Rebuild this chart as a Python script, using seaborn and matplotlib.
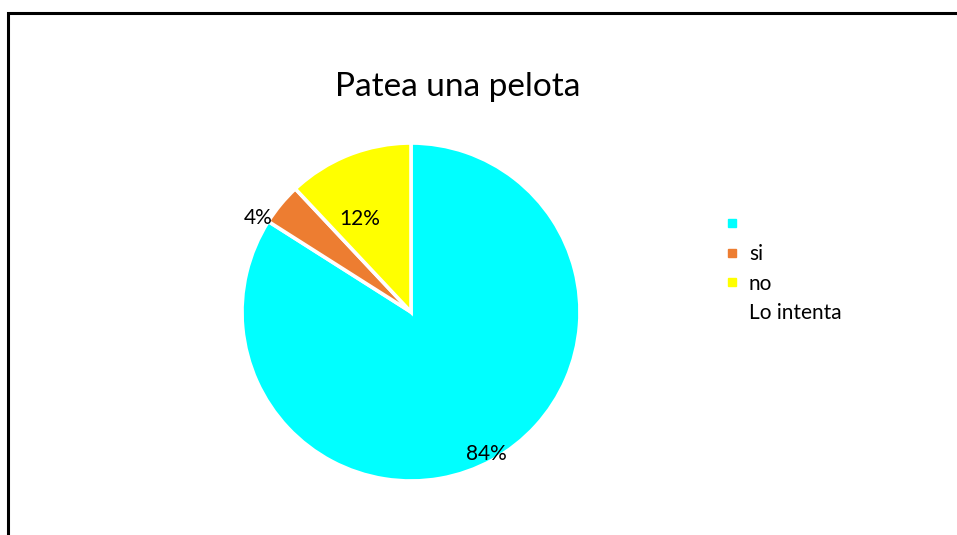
import matplotlib
matplotlib.use("Agg")
import matplotlib.pyplot as plt
from matplotlib.lines import Line2D
import numpy as np
import seaborn as sns

# Chart data
values = [84, 4, 12]
slice_colors = ["#00FFFF", "#ED7D31", "#FFFF00"]
legend_labels = ["", "si", "no", "Lo intenta"]
title = "Patea una pelota"

# label layout: distance from centre (fraction of radius) and
# angular nudge (degrees) away from each wedge's mid-angle
label_radius = [0.95, 1.06, 0.63]
label_nudge = [-1.0, 8.0, 7.0]

sns.set_theme(style="white")
plt.rcParams["font.family"] = ["Lato", "DejaVu Sans"]
plt.rcParams["text.color"] = "black"

W, H = 957, 535
fig = plt.figure(figsize=(W / 100, H / 100), dpi=100)
fig.patch.set_facecolor("white")

# pie axes: centre (411, 312) px, radius 169 px
cx, cy, r = 411, 312, 169
ax = fig.add_axes([(cx - r) / W, (H - cy - r) / H, 2 * r / W, 2 * r / H])
wedges, _ = ax.pie(
    values,
    colors=slice_colors,
    startangle=90,
    counterclock=False,
    radius=1.0,
    wedgeprops=dict(edgecolor="white", linewidth=2.6),
)
ax.set_xlim(-1, 1)
ax.set_ylim(-1, 1)
ax.set_aspect("equal")
ax.axis("off")

total = sum(values)
for w, v, rf, nd in zip(wedges, values, label_radius, label_nudge):
    mid = np.deg2rad((w.theta1 + w.theta2) / 2 + nd)
    ax.text(rf * np.cos(mid), rf * np.sin(mid), f"{round(100 * v / total)}%",
            ha="center", va="center", fontsize=15, color="black")

fig.text(458 / W, 1 - 87 / H, title, ha="center", va="center",
         fontsize=24, color="black")

# legend: coloured squares with the labels one row lower
handles = [Line2D([], [], linestyle="none", marker="s", markersize=5.5,
                  markerfacecolor=c, markeredgecolor=c) for c in slice_colors]
handles.append(Line2D([], [], linestyle="none", marker="none"))
leg = fig.legend(handles, legend_labels, loc="upper left",
                 bbox_to_anchor=(724 / W, 1 - 214 / H), frameon=False,
                 fontsize=15, handlelength=0.8, handletextpad=0.4,
                 labelspacing=0.47, borderpad=0, borderaxespad=0)
for t in leg.get_texts():
    t.set_color("black")

# left and top frame lines
fig.add_artist(Line2D([8 / W, 8 / W, 1.0], [0.0, 1 - 13 / H, 1 - 13 / H],
                      transform=fig.transFigure, color="black", linewidth=2.2,
                      solid_joinstyle="miter"))

fig.savefig("out.png", dpi=100, facecolor="white")
